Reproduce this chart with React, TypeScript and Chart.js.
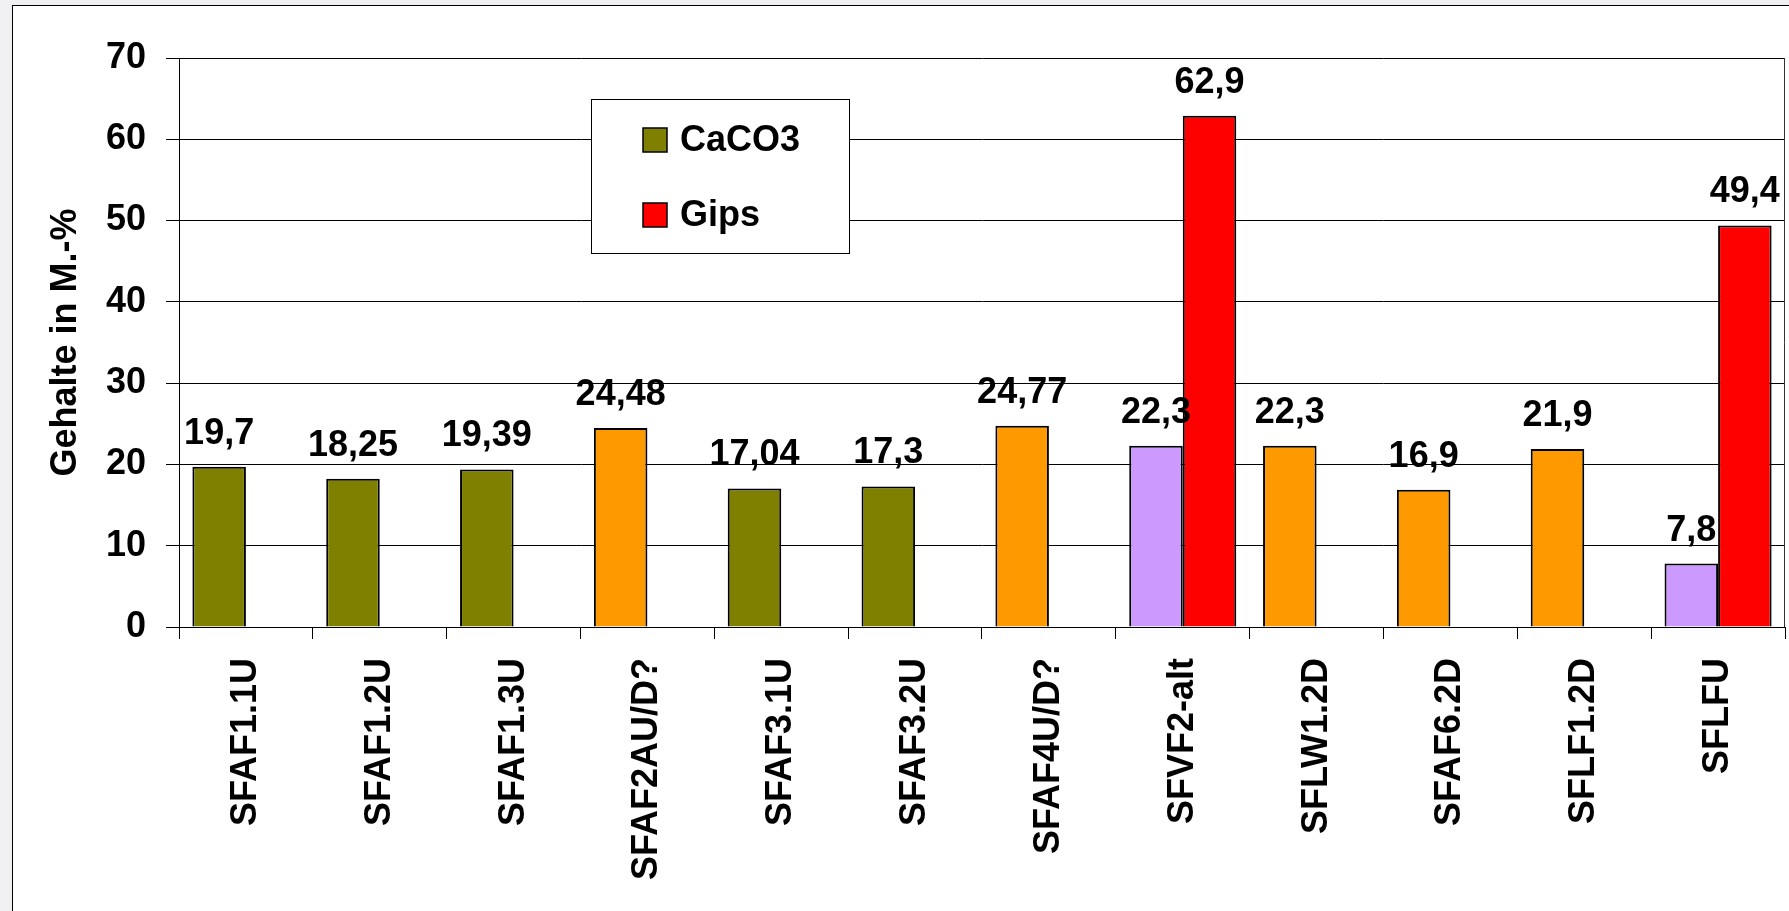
import React, { useEffect, useRef } from "react";
import { Chart, registerables } from "chart.js";

Chart.register(...registerables);

// Sample names along the x axis
const categories = [
  "SFAF1.1U",
  "SFAF1.2U",
  "SFAF1.3U",
  "SFAF2AU/D?",
  "SFAF3.1U",
  "SFAF3.2U",
  "SFAF4U/D?",
  "SFVF2-alt",
  "SFLW1.2D",
  "SFAF6.2D",
  "SFLF1.2D",
  "SFLFU",
];

// Contents in mass-% per sample
const caco3Values: (number | null)[] = [19.7, 18.25, 19.39, 24.48, 17.04, 17.3, 24.77, 22.3, 22.3, 16.9, 21.9, 7.8];
const gipsValues: (number | null)[] = [null, null, null, null, null, null, null, 62.9, null, null, null, 49.4];

// Per-sample fill of the first series
const OLIVE = "#808000";
const ORANGE = "#FF9900";
const LILAC = "#CC99FF";
const RED = "#FF0000";
const caco3Colors = [OLIVE, OLIVE, OLIVE, ORANGE, OLIVE, OLIVE, ORANGE, LILAC, ORANGE, ORANGE, ORANGE, LILAC];

// Legend entries
const legendLabels = ["CaCO3", "Gips"];
const legendColors = [OLIVE, RED];

// Value axis
const yMin = 0;
const yMax = 70;
const yStep = 10;
const yTitle = "Gehalte in M.-%";

const FONT_FAMILY = '"Liberation Sans", Arial, Helvetica, sans-serif';
const boldFont = { family: FONT_FAMILY, size: 36, weight: "bold" as const };

const formatValue = (v: number) => String(v).replace(".", ",");

// Numbers above each bar
const valueLabels = {
  id: "valueLabels",
  afterDatasetsDraw(chart: any) {
    const { ctx } = chart;
    ctx.save();
    ctx.font = `bold 36px ${FONT_FAMILY}`;
    ctx.fillStyle = "#000";
    ctx.textAlign = "center";
    ctx.textBaseline = "alphabetic";
    chart.data.datasets.forEach((ds: any, di: number) => {
      const meta = chart.getDatasetMeta(di);
      meta.data.forEach((bar: any, i: number) => {
        const v = ds.data[i];
        if (v === null || v === undefined) return;
        ctx.fillText(formatValue(v), bar.x, bar.y - 23);
      });
    });
    ctx.restore();
  },
};

// Right edge of the plot area
const plotFrame = {
  id: "plotFrame",
  beforeDatasetsDraw(chart: any) {
    const { ctx, chartArea } = chart;
    ctx.save();
    ctx.strokeStyle = "#333";
    ctx.lineWidth = 1;
    const x = Math.round(chartArea.right) - 0.5;
    ctx.beginPath();
    ctx.moveTo(x, chartArea.top);
    ctx.lineTo(x, chartArea.bottom);
    ctx.stroke();
    ctx.restore();
  },
};

// Boxed legend floating inside the plot
const legendBox = {
  id: "legendBox",
  afterDraw(chart: any) {
    const { ctx } = chart;
    const box = { x: 591, y: 99, w: 258, h: 154 };
    ctx.save();
    ctx.fillStyle = "#fff";
    ctx.fillRect(box.x, box.y, box.w, box.h);
    ctx.strokeStyle = "#000";
    ctx.lineWidth = 1;
    ctx.strokeRect(box.x + 0.5, box.y + 0.5, box.w, box.h);
    ctx.font = `bold 36px ${FONT_FAMILY}`;
    ctx.textAlign = "left";
    ctx.textBaseline = "middle";
    legendLabels.forEach((label, i) => {
      const cy = 140 + i * 75;
      ctx.fillStyle = legendColors[i];
      ctx.fillRect(643, cy - 12, 24, 24);
      ctx.strokeStyle = "#000";
      ctx.lineWidth = 1.5;
      ctx.strokeRect(643, cy - 12, 24, 24);
      ctx.fillStyle = "#000";
      ctx.fillText(label, 680, cy + 1);
    });
    ctx.restore();
  },
};

export default function App() {
  const canvasRef = useRef<HTMLCanvasElement>(null);

  useEffect(() => {
    const canvas = canvasRef.current;
    if (!canvas) return;
    const chart = new Chart(canvas, {
      type: "bar",
      data: {
        labels: categories,
        datasets: [
          {
            label: legendLabels[0],
            data: caco3Values,
            backgroundColor: caco3Colors,
            borderColor: "#000",
            borderWidth: 2,
            categoryPercentage: 0.8,
            barPercentage: 1,
          },
          {
            label: legendLabels[1],
            data: gipsValues,
            backgroundColor: RED,
            borderColor: "#000",
            borderWidth: 2,
            categoryPercentage: 0.8,
            barPercentage: 1,
          },
        ],
      },
      options: {
        animation: false,
        responsive: false,
        devicePixelRatio: 1,
        layout: { padding: { left: 0, top: 58, right: 4, bottom: 0 } },
        plugins: {
          legend: { display: false },
          tooltip: { enabled: false },
        },
        scales: {
          x: {
            offset: true,
            grid: {
              display: true,
              drawOnChartArea: false,
              drawTicks: true,
              tickLength: 12,
              color: "#000",
              offset: true,
            },
            border: { display: true, color: "#000", width: 1 },
            ticks: {
              autoSkip: false,
              maxRotation: 90,
              minRotation: 90,
              padding: 19,
              color: "#000",
              font: boldFont,
            },
            afterFit: (scale: any) => {
              scale.height = 284;
            },
          },
          y: {
            min: yMin,
            max: yMax,
            ticks: { stepSize: yStep, padding: 20, color: "#000", font: boldFont },
            grid: { color: "#000", lineWidth: 1, drawTicks: true, tickLength: 13, tickColor: "#000" },
            border: { display: true, color: "#000", width: 1 },
            title: {
              display: true,
              text: yTitle,
              color: "#000",
              font: boldFont,
              padding: { top: 44, bottom: 0 },
            },
            afterFit: (scale: any) => {
              scale.width = 179;
            },
          },
        },
      },
      plugins: [plotFrame, valueLabels, legendBox],
    });
    return () => chart.destroy();
  }, []);

  return (
    <div
      style={{
        position: "fixed",
        left: 0,
        top: 0,
        width: 1789,
        height: 911,
        background: "#f0f0f2",
        overflow: "hidden",
      }}
    >
      <div
        style={{
          position: "absolute",
          left: 12,
          top: 5,
          right: -4,
          bottom: -4,
          background: "#fff",
          borderLeft: "1px solid #000",
          borderTop: "1px solid #000",
        }}
      />
      <canvas
        ref={canvasRef}
        width={1789}
        height={911}
        style={{ position: "absolute", left: 0, top: 0, width: 1789, height: 911 }}
      />
    </div>
  );
}
